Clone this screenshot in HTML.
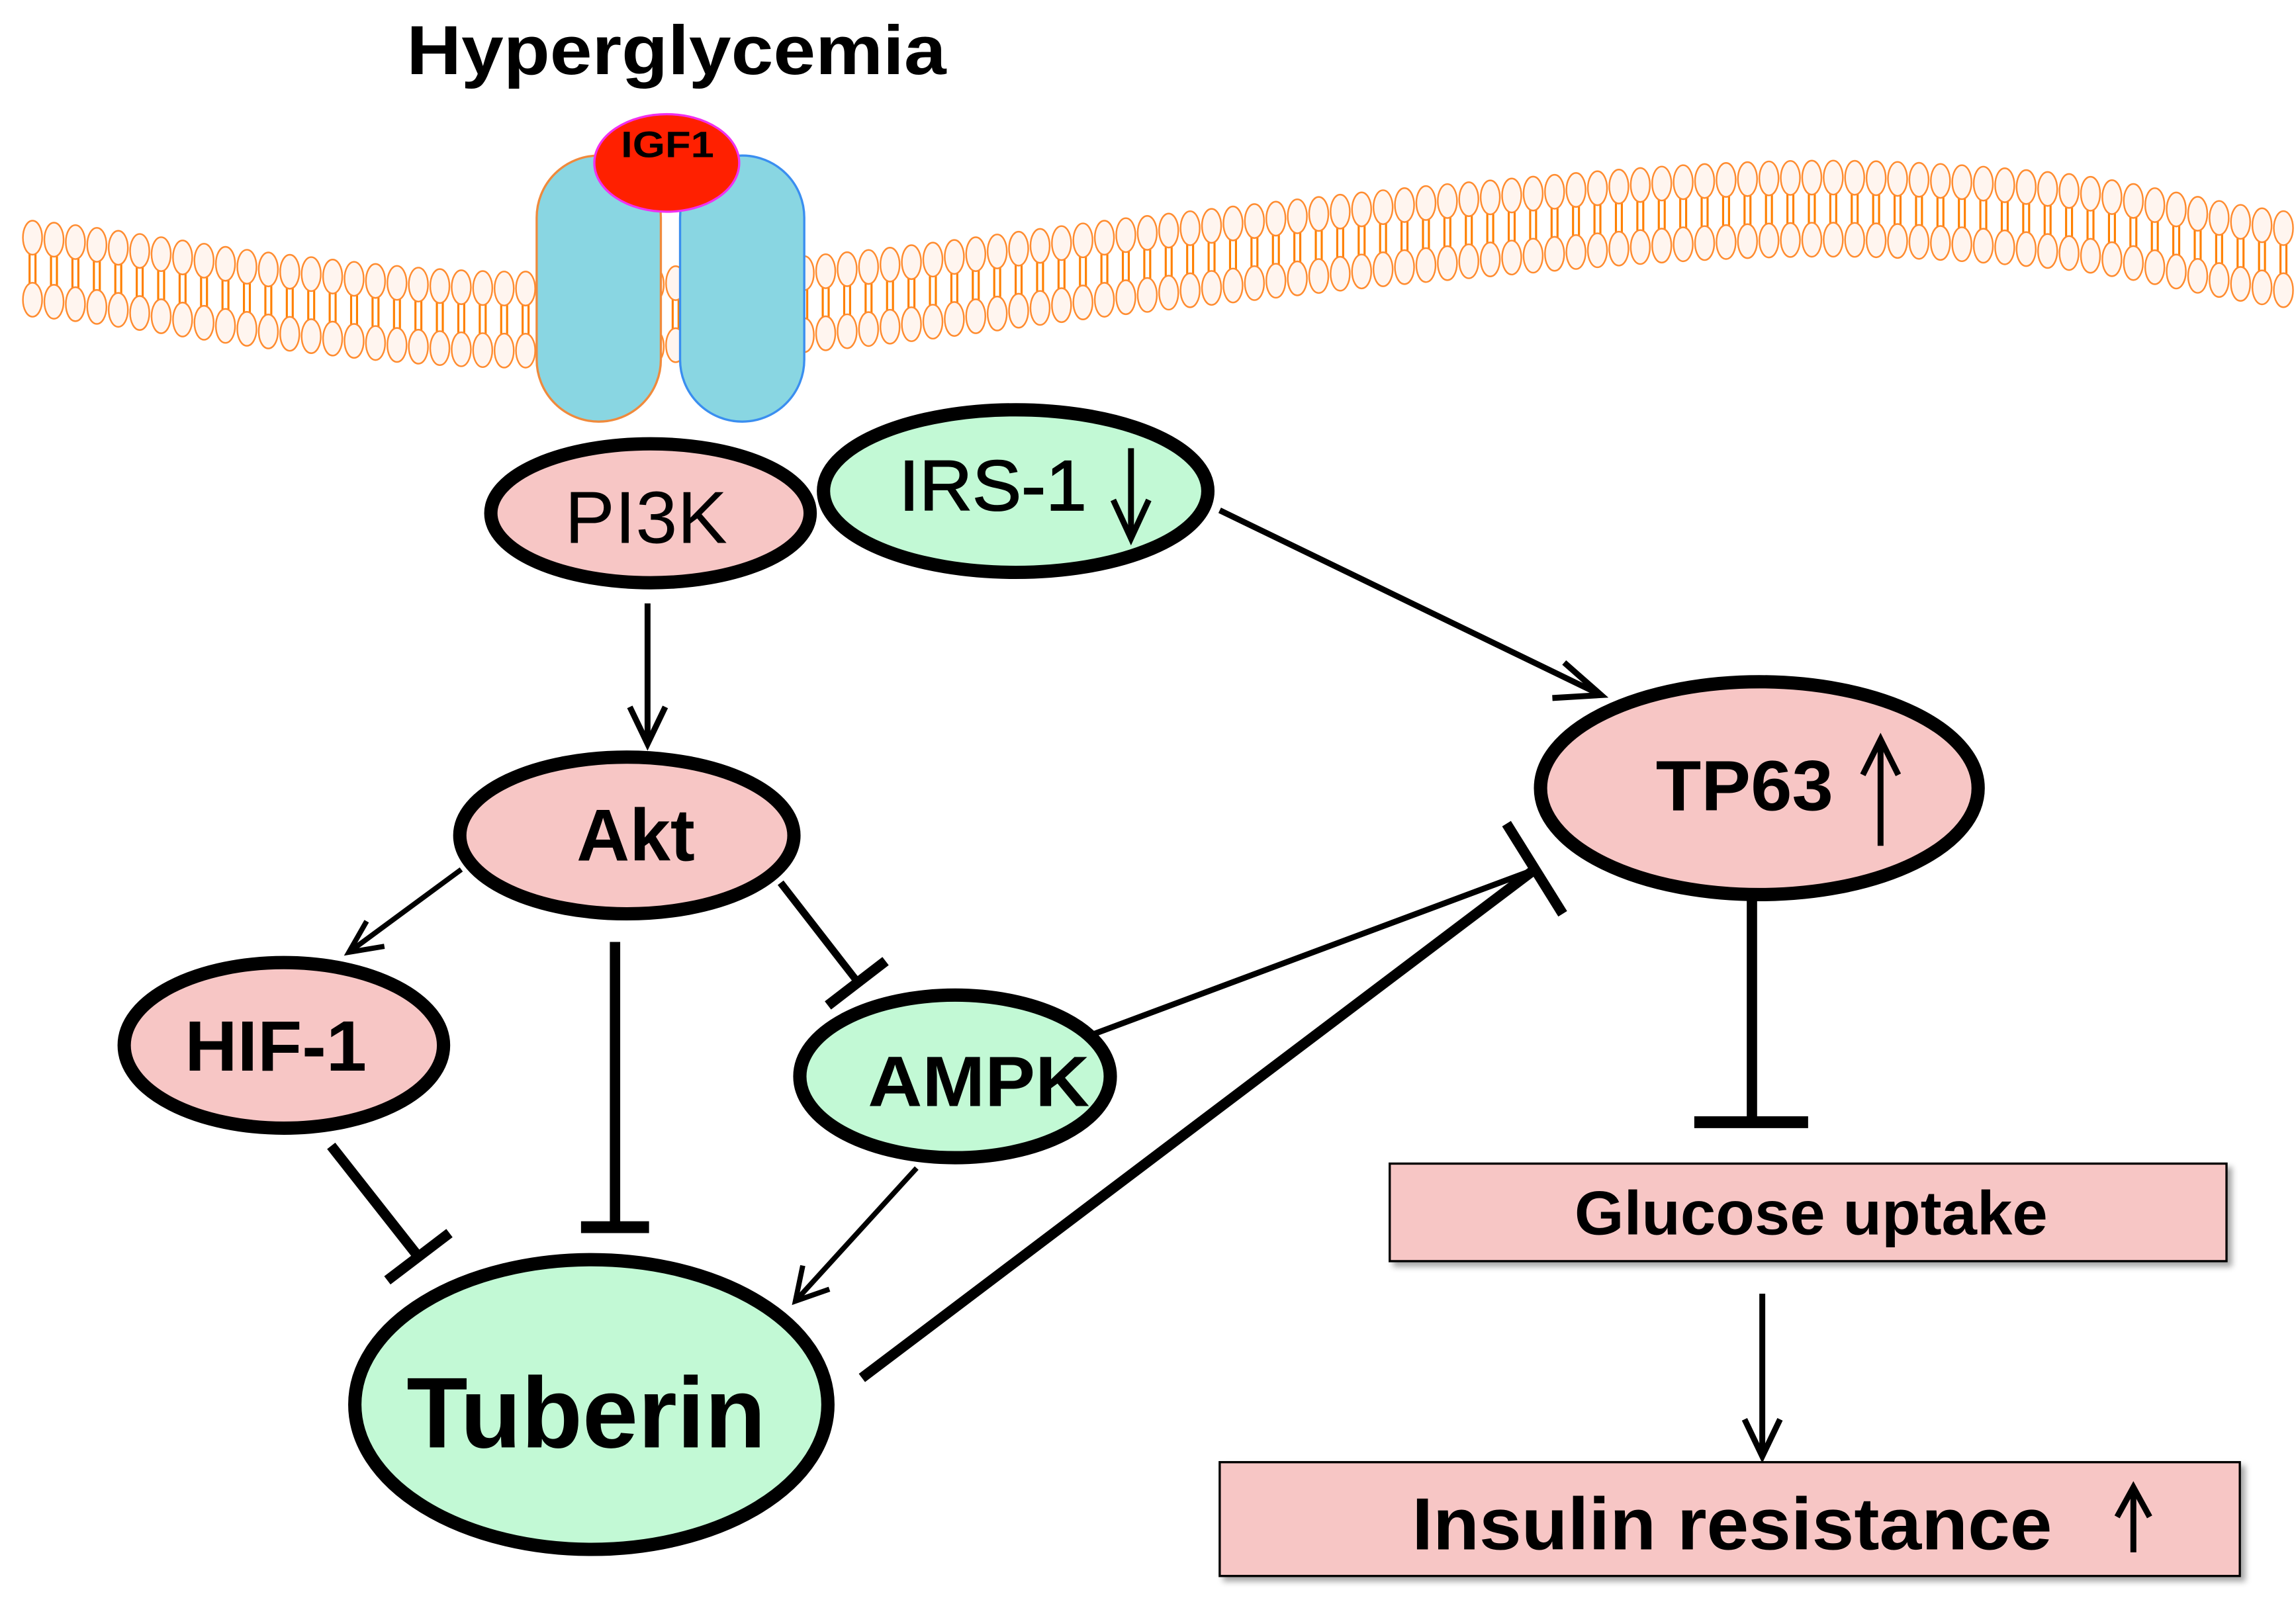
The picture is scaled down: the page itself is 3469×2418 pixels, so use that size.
<!DOCTYPE html>
<html><head><meta charset="utf-8"><style>
html,body{margin:0;padding:0;background:#fff}
svg{display:block}
text{font-family:"Liberation Sans",Arial,sans-serif;fill:#000}
</style></head><body>
<svg id="s" width="3469" height="2418" viewBox="0 0 1553 1082" xmlns="http://www.w3.org/2000/svg">
<defs>
<filter id="sh" x="-5%" y="-10%" width="115%" height="130%"><feDropShadow dx="3" dy="3" stdDeviation="2" flood-color="#000" flood-opacity="0.35"/></filter>
</defs>
<g id="mem"></g>
<text x="275" y="50" font-size="47" font-weight="bold" textLength="365" lengthAdjust="spacingAndGlyphs">Hyperglycemia</text>
<!-- receptor -->
<rect x="363" y="105" width="84" height="180" rx="42" fill="#89d6e2" stroke="#f08a3c" stroke-width="1.5"/>
<rect x="460" y="105" width="84" height="180" rx="42" fill="#89d6e2" stroke="#3a8ef0" stroke-width="1.5"/>
<ellipse cx="451" cy="110" rx="49" ry="33" fill="#ff2000" stroke="#f030f0" stroke-width="1.5"/>
<text x="420" y="106" font-size="25" font-weight="bold" textLength="63" lengthAdjust="spacingAndGlyphs">IGF1</text>

<g stroke="#000" fill="none" stroke-linecap="butt">
<line x1="825" y1="345" x2="1083" y2="470" stroke-width="4"/>
<path d="M1058,448 L1083,470 L1050,472" stroke-width="4"/>
<line x1="438" y1="408" x2="438" y2="503" stroke-width="4"/>
<path d="M426,478 L438,503 L450,478" stroke-width="4"/>
<line x1="312" y1="588" x2="236" y2="644" stroke-width="3.5"/>
<path d="M248,623 L236,644 L260,640" stroke-width="3.5"/>
<line x1="416" y1="637" x2="416" y2="830" stroke-width="7"/>
<line x1="393" y1="830" x2="439" y2="830" stroke-width="8"/>
<line x1="528" y1="597" x2="580" y2="664" stroke-width="5"/>
<line x1="560" y1="680" x2="599" y2="650" stroke-width="7"/>
<line x1="224" y1="775" x2="283" y2="850" stroke-width="7"/>
<line x1="262" y1="866" x2="304" y2="834" stroke-width="7"/>
<line x1="620" y1="790" x2="538" y2="880" stroke-width="3.5"/>
<path d="M543,856 L538,880 L561,872" stroke-width="3.5"/>
<line x1="738" y1="700" x2="1033" y2="590" stroke-width="4"/>
<line x1="583" y1="932" x2="1038" y2="588" stroke-width="7"/>
<line x1="1019" y1="557" x2="1057" y2="618" stroke-width="7"/>
<line x1="1185" y1="608" x2="1185" y2="758" stroke-width="7"/>
<line x1="1146" y1="759" x2="1223" y2="759" stroke-width="8"/>
<line x1="1192" y1="875" x2="1192" y2="985" stroke-width="4"/>
<path d="M1180,960 L1192,985 L1204,960" stroke-width="4"/>
</g>

<g stroke="#000">
<ellipse cx="440" cy="347" rx="108" ry="47" fill="#f7c6c5" stroke-width="9"/>
<ellipse cx="687" cy="332" rx="130" ry="55" fill="#c2f9d5" stroke-width="9"/>
<ellipse cx="424" cy="565" rx="113" ry="53" fill="#f7c6c5" stroke-width="9"/>
<ellipse cx="192" cy="707" rx="108" ry="56" fill="#f7c6c5" stroke-width="9"/>
<ellipse cx="646" cy="728" rx="105" ry="55" fill="#c2f9d5" stroke-width="9"/>
<ellipse cx="400" cy="950" rx="160" ry="98" fill="#c2f9d5" stroke-width="9"/>
<ellipse cx="1190" cy="533" rx="148" ry="72" fill="#f7c6c5" stroke-width="9"/>
<rect x="940" y="787" width="566" height="66" fill="#f7c6c5" stroke-width="1.5" filter="url(#sh)"/>
<rect x="825" y="989" width="690" height="77" fill="#f7c6c5" stroke-width="1.5" filter="url(#sh)"/>
</g>
<text x="382" y="367" font-size="50" textLength="110" lengthAdjust="spacingAndGlyphs">PI3K</text>
<text x="608" y="345" font-size="48" textLength="127" lengthAdjust="spacingAndGlyphs" stroke="#000" stroke-width="0.8">IRS-1</text>
<g stroke="#000" fill="none" stroke-width="4">
<line x1="765" y1="303" x2="765" y2="364"/><path d="M753,338 L765,364 L777,338"/>
<line x1="1272" y1="572" x2="1272" y2="500"/><path d="M1260,524 L1272,500 L1284,524"/>
<line x1="1443" y1="1050" x2="1443" y2="1006"/><path d="M1432,1026 L1443,1006 L1454,1026"/>
</g>
<text x="390" y="582" font-size="50" font-weight="bold" textLength="80" lengthAdjust="spacingAndGlyphs">Akt</text>
<text x="125" y="724" font-size="48" font-weight="bold" textLength="123" lengthAdjust="spacingAndGlyphs">HIF-1</text>
<text x="587" y="748" font-size="48" font-weight="bold" textLength="150" lengthAdjust="spacingAndGlyphs">AMPK</text>
<text x="275" y="979" font-size="68" font-weight="bold" textLength="243" lengthAdjust="spacingAndGlyphs">Tuberin</text>
<text x="1120" y="548" font-size="48" font-weight="bold" textLength="120" lengthAdjust="spacingAndGlyphs">TP63</text>
<text x="1065" y="835" font-size="42" font-weight="bold" textLength="320" lengthAdjust="spacingAndGlyphs">Glucose uptake</text>
<text x="955" y="1048" font-size="50" font-weight="bold" textLength="433" lengthAdjust="spacingAndGlyphs">Insulin resistance</text>
</svg>
<script>
(function(){
var pts=[[0,178],[15,181],[200,205],[350,216],[550,205],[760,180],[1000,155],[1220,141],[1400,150],[1553,176],[1570,179]];
function cy(x){
 for(var i=1;i<pts.length-2;i++){
  if(x<=pts[i+1][0]){
   var p0=pts[i-1],p1=pts[i],p2=pts[i+1],p3=pts[i+2];
   var t=(x-p1[0])/(p2[0]-p1[0]);
   var t2=t*t,t3=t2*t;
   return 0.5*((2*p1[1])+(-p0[1]+p2[1])*t+(2*p0[1]-5*p1[1]+4*p2[1]-p3[1])*t2+(-p0[1]+3*p1[1]-3*p2[1]+p3[1])*t3);
  }
 }
 return pts[pts.length-2][1];
}
var g=document.getElementById('mem'),h='';
for(var x=22;x<1553;x+=14.5){
 var c=cy(x);
 h+='<line x1="'+(x-2)+'" y1="'+(c-10)+'" x2="'+(x-2)+'" y2="'+(c+10)+'" stroke="#ff8000" stroke-width="1.4"/>';
 h+='<line x1="'+(x+2)+'" y1="'+(c-10)+'" x2="'+(x+2)+'" y2="'+(c+10)+'" stroke="#ff8000" stroke-width="1.4"/>';
 h+='<ellipse cx="'+x+'" cy="'+(c-21)+'" rx="6.5" ry="11.5" fill="#fff5ef" stroke="#ff8c30" stroke-width="1.1"/>';
 h+='<ellipse cx="'+x+'" cy="'+(c+21)+'" rx="6.5" ry="11.5" fill="#fff5ef" stroke="#ff8c30" stroke-width="1.1"/>';
}
g.innerHTML=h;
})();
</script>
</body></html>
